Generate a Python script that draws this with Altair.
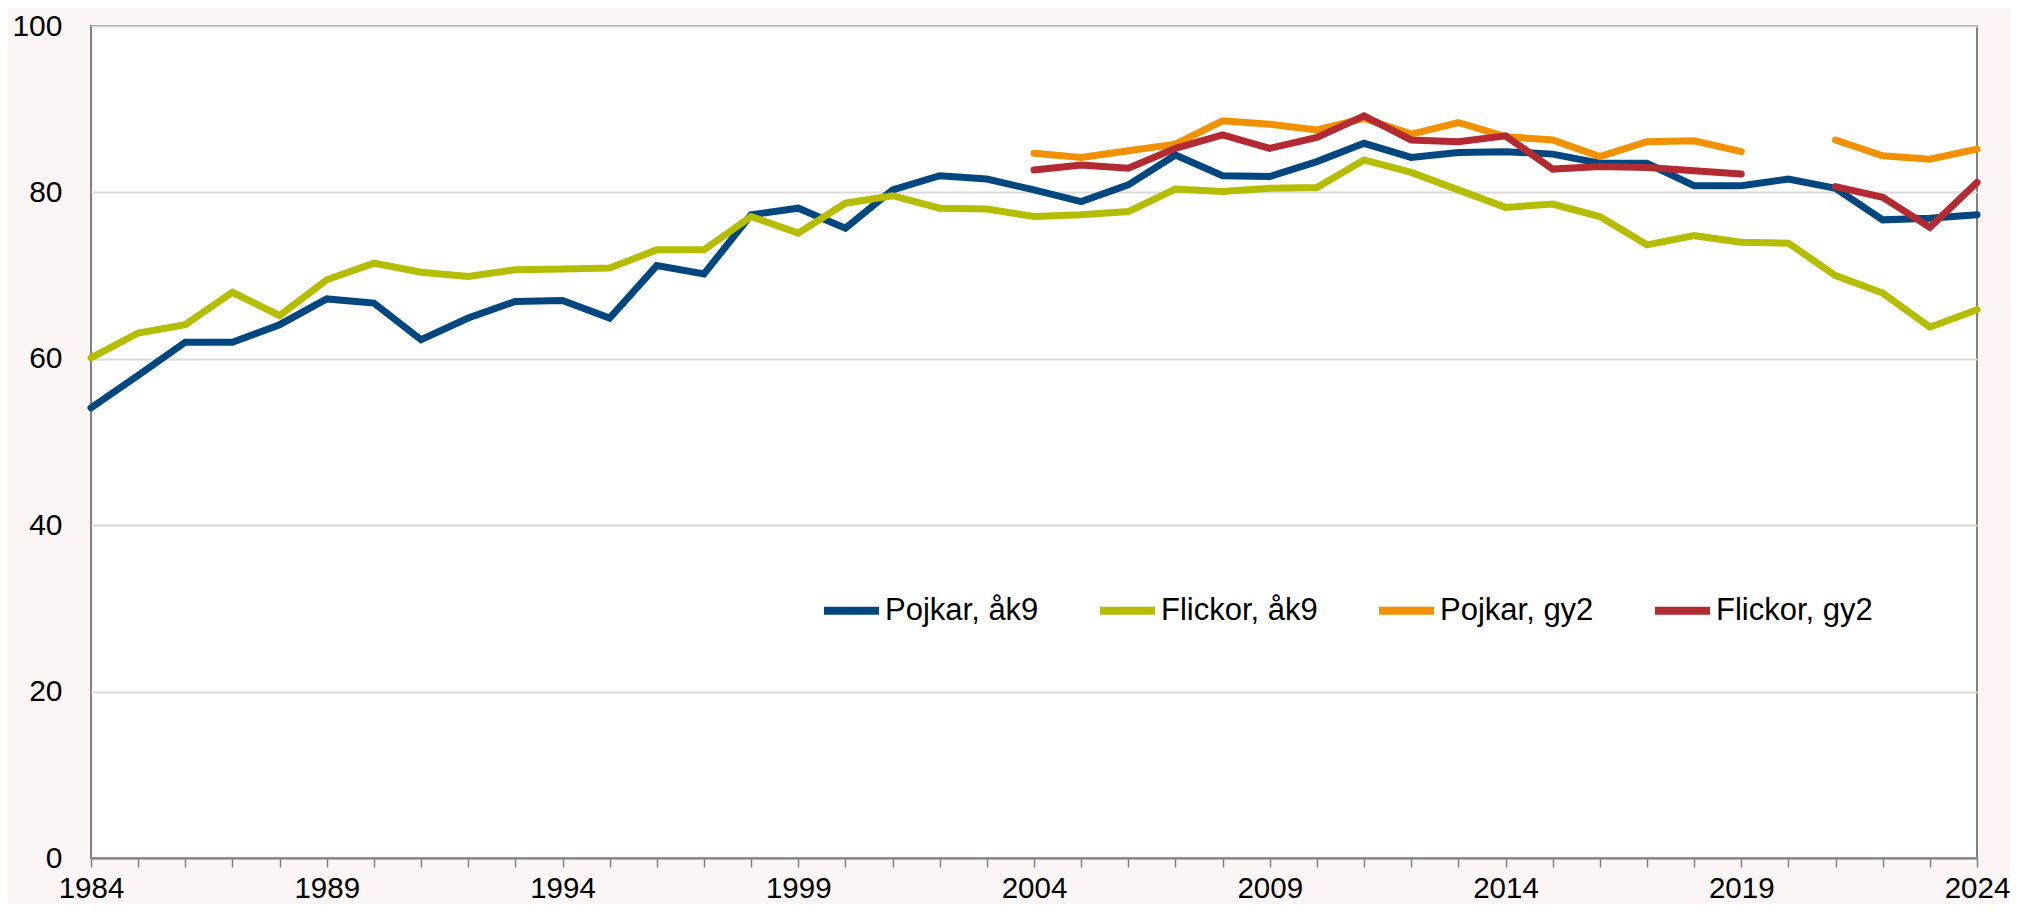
import altair as alt
import pandas as pd

years = list(range(1984, 2025))
pojkar_ak9 = [54.1, 58.0, 62.0, 62.0, 64.1, 67.2, 66.7, 62.3, 64.9, 66.9, 67.0, 64.9, 71.2, 70.2,
              77.3, 78.1, 75.7, 80.3, 82.0, 81.6, 80.3, 78.9, 80.9, 84.5, 82.0, 81.9, 83.7,
              85.9, 84.2, 84.8, 84.9, 84.6, 83.5, 83.5, 80.8, 80.8, 81.6, 80.5, 76.7, 76.9, 77.3]
flickor_ak9 = [60.1, 63.1, 64.1, 68.0, 65.2, 69.5, 71.5, 70.4, 69.9, 70.7, 70.8, 70.9, 73.1, 73.1,
               77.1, 75.1, 78.7, 79.6, 78.1, 78.0, 77.1, 77.3, 77.7, 80.4, 80.1, 80.5, 80.6,
               83.9, 82.4, 80.3, 78.2, 78.6, 77.1, 73.7, 74.8, 74.0, 73.9, 70.0, 67.9, 63.8, 65.9]
gy2_years = list(range(2004, 2025))
pojkar_gy2 = [84.7, 84.2, 85.0, 85.8, 88.6, 88.2, 87.5, 88.9, 87.0, 88.4, 86.7, 86.3, 84.3, 86.1,
              86.2, 84.9, None, 86.3, 84.4, 84.0, 85.2]
flickor_gy2 = [82.7, 83.3, 82.9, 85.3, 86.9, 85.3, 86.6, 89.2, 86.3, 86.1, 86.8, 82.8, 83.1, 83.0,
               82.6, 82.2, None, 80.7, 79.4, 75.8, 81.2]

series_names = ["Pojkar, åk9", "Flickor, åk9", "Pojkar, gy2", "Flickor, gy2"]
series_colors = ["#00477F", "#B4BD00", "#F29100", "#B22A32"]

rows = []
for name, xs, vals in [
    (series_names[0], years, pojkar_ak9),
    (series_names[1], years, flickor_ak9),
    (series_names[2], gy2_years, pojkar_gy2),
    (series_names[3], gy2_years, flickor_gy2),
]:
    seg = 0
    for yr, v in zip(xs, vals):
        if v is None:
            seg += 1
            continue
        rows.append({"year": yr, "value": v, "serie": name, "seg": f"{name}-{seg}"})
df = pd.DataFrame(rows)

FONT = "Liberation Sans"

chart = alt.Chart(df).mark_line(strokeWidth=7, strokeCap="round", strokeJoin="miter").encode(
    x=alt.X("year:Q",
            scale=alt.Scale(domain=[1984, 2024], nice=False, zero=False),
            axis=alt.Axis(values=years, labelExpr="(datum.value - 1984) % 5 == 0 ? datum.value : ''",
                          format="d", title=None, grid=False, labelOverlap=False, labelFlush=False,
                          tickSize=9, tickColor="#808080", tickWidth=1.5,
                          domainColor="#808080", domainWidth=2,
                          labelFont=FONT, labelFontSize=29.5, labelColor="#000000",
                          labelPadding=7)),
    y=alt.Y("value:Q",
            scale=alt.Scale(domain=[0, 100], nice=False),
            axis=alt.Axis(values=[0, 20, 40, 60, 80, 100], title=None, ticks=False, domain=False,
                          grid=True, gridColor="#D9D9D9", gridWidth=2,
                          labelFont=FONT, labelFontSize=30, labelColor="#000000",
                          labelPadding=29)),
    color=alt.Color("serie:N",
                    scale=alt.Scale(domain=series_names, range=series_colors),
                    legend=alt.Legend(orient="none", direction="horizontal", title=None,
                                      legendX=729, legendY=553, padding=0,
                                      symbolType="stroke", symbolSize=3025, symbolStrokeWidth=8,
                                      labelFont=FONT, labelFontSize=31, labelColor="#000000",
                                      labelOffset=2, columnPadding=45)),
    detail="seg:N",
).properties(
    width=1886,
    height=832,
    autosize=alt.AutoSizeParams(type="none"),
    padding={"left": 83, "top": 18, "right": 33, "bottom": 46},
    background="#FCF5F5",
).configure_view(
    fill="#FFFFFF", stroke="#808080", strokeWidth=2
)

chart.save("out.html", embed_options={"renderer": "svg", "actions": False})
